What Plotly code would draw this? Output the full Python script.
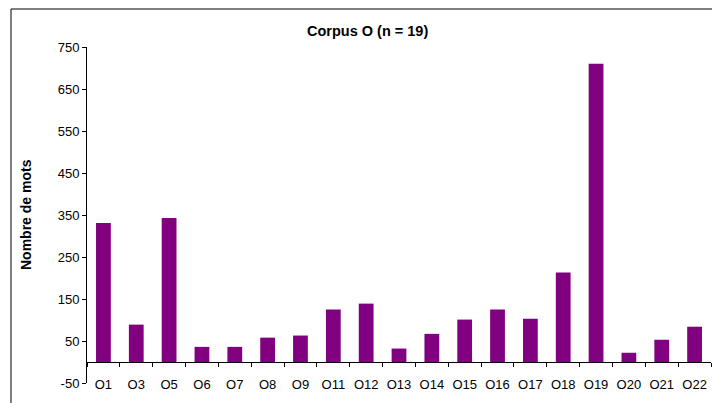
import plotly.graph_objects as go

textes = ['O1', 'O3', 'O5', 'O6', 'O7', 'O8', 'O9', 'O11', 'O12', 'O13',
          'O14', 'O15', 'O16', 'O17', 'O18', 'O19', 'O20', 'O21', 'O22']
nb_mots = [331, 89, 343, 36, 36, 58, 63, 125, 139, 32,
           67, 101, 125, 103, 213, 710, 22, 53, 84]
y_ticks = [-50, 50, 150, 250, 350, 450, 550, 650, 750]

fig = go.Figure(go.Bar(x=textes, y=nb_mots, marker_color='#800080', marker_line_width=0,
                       hoverinfo='skip'))

fig.update_layout(
    width=712, height=403,
    margin=dict(l=87, r=1, t=47, b=20),
    plot_bgcolor='white', paper_bgcolor='white',
    font=dict(family='Liberation Sans, Arial', size=13, color='black'),
    bargap=0.55,
    showlegend=False,
)

fig.update_yaxes(
    range=[-50, 750], tickvals=y_ticks, ticktext=[str(v) for v in y_ticks],
    showgrid=False, zeroline=False,
    showline=True, linecolor='black', linewidth=1,
    ticks='outside', ticklen=4, tickcolor='black',
)
fig.update_xaxes(
    anchor='free', position=50 / 800, showgrid=False,
    showline=True, linecolor='black', linewidth=1,
    ticks='outside', tickson='boundaries', ticklen=4, tickcolor='black',
    ticklabelstandoff=10, tickangle=0,
)

# titre du graphique
fig.add_annotation(text='<b>Corpus O (n = 19)</b>', xref='paper', yref='paper',
                   x=(367 - 87) / 624, y=(383 - 31) / 336, xanchor='center', yanchor='middle',
                   showarrow=False, font=dict(size=14.5))
fig.add_annotation(text='<b>Nombre de mots</b>', xref='paper', yref='paper',
                   x=(26 - 87) / 624, y=0.5, xanchor='center', yanchor='middle',
                   textangle=-90, showarrow=False, font=dict(size=14))

# cadre autour du graphique
fig.add_shape(type='rect', xref='paper', yref='paper',
              x0=(11 - 87) / 624, x1=1.05, y0=-0.2, y1=(383 - 9) / 336,
              line=dict(color='black', width=1))

fig.write_html('out.html', config={'displayModeBar': False},
               post_script="document.body.style.margin='0';")
